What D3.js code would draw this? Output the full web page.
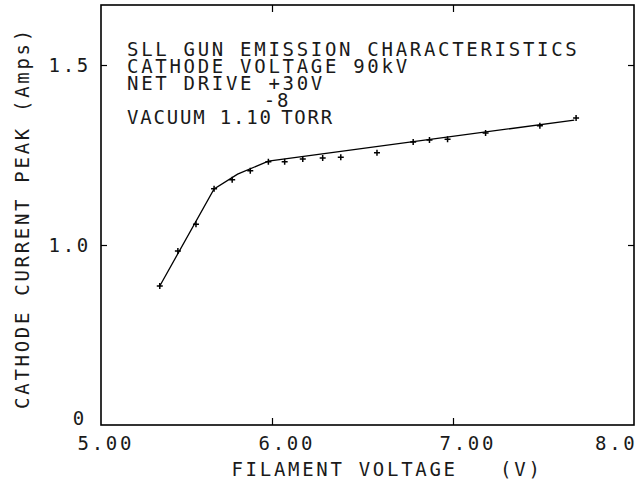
<!DOCTYPE html>
<html>
<head>
<meta charset="utf-8">
<script src="https://cdn.jsdelivr.net/npm/d3@7"></script>
<style>
  body { margin: 0; background: #fff; }
  text { font-family: "DejaVu Sans Mono", monospace; font-size: 19px; fill: #1a1a1a; letter-spacing: 2.7px; }
</style>
</head>
<body>
<div id="chart"></div>
<script>
// measured points (filament voltage V, cathode current A)
const volts = [5.38, 5.48, 5.58, 5.68, 5.78, 5.88, 5.98, 6.07, 6.17, 6.28, 6.38, 6.58, 6.78, 6.87, 6.97, 7.18, 7.48, 7.68]
const amps = [0.886, 0.983, 1.058, 1.156, 1.181, 1.206, 1.231, 1.231, 1.239, 1.242, 1.244, 1.256, 1.286, 1.292, 1.294, 1.311, 1.331, 1.353]

// hand drawn fit line
const fitVolts = [5.38, 5.68, 5.81, 5.98, 7.67]
const fitAmps = [0.886, 1.156, 1.197, 1.233, 1.347]

const xTicks = [5, 6, 7, 8]
const xTickLabels = ["5.00", "6.00", "7.00", "8.0"]
const yTicks = [0.5, 1.0, 1.5]
const yTickLabels = ["0", "1.0", "1.5"]

const titleLines = ["SLL GUN EMISSION CHARACTERISTICS", "CATHODE VOLTAGE 90kV", "NET DRIVE +30V"]

const WIDTH = 643
const HEIGHT = 482
const LEFT = 101, RIGHT = 634, TOP = 5, BOTTOM = 425

const svg = d3.select("#chart")
  .append("svg")
  .attr("width", WIDTH)
  .attr("height", HEIGHT)

const x = d3.scaleLinear().domain([5, 8]).range([91, RIGHT])
const y = d3.scaleLinear().domain([0.5, 1.6667]).range([BOTTOM, TOP])

// frame
svg.append("rect")
  .attr("x", LEFT).attr("y", TOP)
  .attr("width", RIGHT - LEFT).attr("height", BOTTOM - TOP)
  .attr("fill", "none").attr("stroke", "#000").attr("stroke-width", 1.6)

// inward ticks on all four sides
const tickStyle = g => {
  g.select(".domain").remove()
  g.selectAll("line").attr("stroke", "#000").attr("stroke-width", 1.2)
}
svg.append("g").attr("transform", `translate(0,${BOTTOM})`)
  .call(d3.axisBottom(x).tickValues([6, 7]).tickSize(-7).tickFormat(""))
  .call(tickStyle)
svg.append("g").attr("transform", `translate(0,${TOP})`)
  .call(d3.axisTop(x).tickValues([6, 7]).tickSize(-7).tickFormat(""))
  .call(tickStyle)
svg.append("g").attr("transform", `translate(${LEFT},0)`)
  .call(d3.axisLeft(y).tickValues([1.0, 1.5]).tickSize(-6).tickFormat(""))
  .call(tickStyle)
svg.append("g").attr("transform", `translate(${RIGHT},0)`)
  .call(d3.axisRight(y).tickValues([1.0, 1.5]).tickSize(-6).tickFormat(""))
  .call(tickStyle)

// tick labels
const xLab = svg.append("g").attr("transform", `translate(0,${BOTTOM})`)
  .call(d3.axisBottom(x).tickValues(xTicks).tickSize(0).tickPadding(0)
    .tickFormat((d, i) => xTickLabels[i]))
xLab.select(".domain").remove()
xLab.selectAll("text")
  .attr("y", 25).attr("dy", 0)
  .attr("text-anchor", (d, i) => i === xTicks.length - 1 ? "end" : "start")
  .attr("dx", (d, i) => i === xTicks.length - 1 ? 3 : -14)

const yLab = svg.append("g").attr("transform", `translate(${LEFT},0)`)
  .call(d3.axisLeft(y).tickValues(yTicks).tickSize(0).tickPadding(10)
    .tickFormat((d, i) => yTickLabels[i]))
yLab.select(".domain").remove()
yLab.selectAll("text")
  .attr("dy", (d, i) => i === 0 ? "-0.05em" : "0.35em")
  .attr("x", (d, i) => i === 0 ? -14 : -10)

// axis titles
svg.append("text")
  .attr("x", 387).attr("y", 476)
  .attr("text-anchor", "middle")
  .attr("xml:space", "preserve")
  .text("FILAMENT VOLTAGE   (V)")

svg.append("text")
  .attr("transform", "translate(29,218) rotate(-90)")
  .attr("text-anchor", "middle")
  .text("CATHODE CURRENT PEAK (Amps)")

// annotation block
svg.selectAll(".title")
  .data(titleLines)
  .enter()
  .append("text")
  .attr("class", "title")
  .attr("x", 127)
  .attr("y", (d, i) => 56 + i * 17)
  .text(d => d)

const vac = svg.append("text").attr("x", 127).attr("y", 124)
  .style("letter-spacing", "1.8px")
vac.append("tspan").text("VACUUM 1.10")
vac.append("tspan").attr("dx", -9).attr("dy", -17).text("-8")
vac.append("tspan").attr("dx", -9).attr("dy", 17).text("TORR")

// fit line
const pts = volts.map((v, i) => [v, amps[i]])
const fit = fitVolts.map((v, i) => [v, fitAmps[i]])

svg.append("path")
  .datum(fit)
  .attr("d", d3.line().x(d => x(d[0])).y(d => y(d[1])))
  .attr("fill", "none")
  .attr("stroke", "#000")
  .attr("stroke-width", 1.3)

// plus markers
svg.selectAll(".pt")
  .data(pts)
  .enter()
  .append("path")
  .attr("class", "pt")
  .attr("d", "M-3,0H3M0,-3V3")
  .attr("transform", d => `translate(${x(d[0])},${y(d[1])})`)
  .attr("stroke", "#000")
  .attr("stroke-width", 1.5)
  .attr("fill", "none")
</script>
</body>
</html>
